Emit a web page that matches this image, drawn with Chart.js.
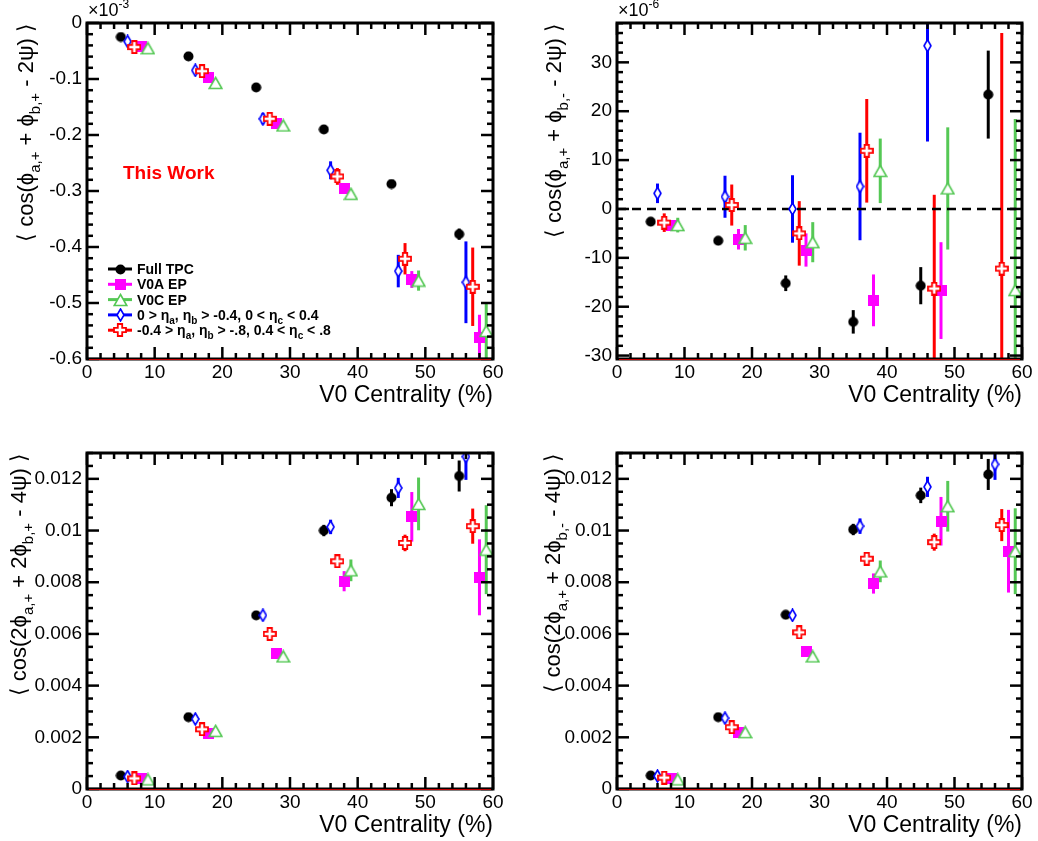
<!DOCTYPE html>
<html>
<head>
<meta charset="utf-8">
<script src="https://cdn.jsdelivr.net/npm/chart.js@4"></script>
<style>
body { margin: 0; background: #fff; }
#wrap { position: relative; width: 1038px; height: 841px; }
#wrap canvas { position: absolute; }
</style>
</head>
<body>
<div id="wrap">
<canvas id="c1" width="519" height="420" style="left:0;top:0"></canvas>
<canvas id="c2" width="519" height="420" style="left:519px;top:0"></canvas>
<canvas id="c3" width="519" height="421" style="left:0;top:420px"></canvas>
<canvas id="c4" width="519" height="421" style="left:519px;top:420px"></canvas>
</div>
<script>
// centrality of each method (shifted by 1% so they don't sit on top of each other)
const centTPC = [5, 15, 25, 35, 45, 55];
const centEtaIn = [6, 16, 26, 36, 46, 56];
const centEtaOut = [7, 17, 27, 37, 47, 57];
const centV0A = [8, 18, 28, 38, 48, 58];
const centV0C = [9, 19, 29, 39, 49, 59];

// top left: <cos(phi_a,+ + phi_b,+ - 2psi)>  (x10^-3)
const ppTPC = [-0.025, -0.0595, -0.115, -0.19, -0.2875, -0.377];
const ppTPCErr = [0.003, 0.003, 0.004, 0.004, 0.005, 0.01];
const ppV0A = [-0.042, -0.0965, -0.18, -0.295, -0.458, -0.561];
const ppV0AErr = [0.003, 0.004, 0.005, 0.006, 0.015, 0.04];
const ppV0C = [-0.045, -0.107, -0.183, -0.305, -0.46, -0.55];
const ppV0CErr = [0.003, 0.004, 0.005, 0.006, 0.018, 0.05];
const ppEtaIn = [-0.033, -0.0845, -0.171, -0.263, -0.443, -0.463];
const ppEtaInErr = [0.004, 0.006, 0.01, 0.016, 0.029, 0.073];
const ppEtaOut = [-0.043, -0.086, -0.171, -0.274, -0.421, -0.471];
const ppEtaOutErr = [0.004, 0.006, 0.008, 0.015, 0.028, 0.07];

// top right: <cos(phi_a,+ + phi_b,- - 2psi)>  (x10^-6)
const pmTPC = [-2.6, -6.5, -15.2, -23.1, -15.7, 23.4];
const pmTPCErr = [0.7, 0.8, 1.6, 2.4, 3.8, 9];
const pmV0A = [-3.3, -6.2, -8.4, -18.7, -16.7, null];
const pmV0AErr = [1.0, 2.1, 3.4, 5.3, 9.9, null];
const pmV0C = [-3.3, -5.9, -6.8, 7.8, 4.2, -16.6];
const pmV0CErr = [1.5, 2.6, 4.1, 6.6, 12.5, 35];
const pmEtaIn = [3.2, 2.5, 0, 4.6, 33.4, null];
const pmEtaInErr = [2, 4.3, 6.9, 11, 19.6, null];
const pmEtaOut = [-2.8, 0.8, -5, 11.9, -16.3, -12.2];
const pmEtaOutErr = [1.9, 4.2, 6.6, 10.6, 19.2, 48.2];

// bottom left: <cos(2phi_a,+ + 2phi_b,+ - 4psi)>
const qpTPC = [0.00052, 0.00278, 0.00672, 0.0100, 0.01127, 0.01211];
const qpTPCErr = [0.00005, 0.00006, 0.0001, 0.00022, 0.00033, 0.0006];
const qpV0A = [0.00039, 0.00216, 0.00526, 0.00804, 0.01053, 0.00819];
const qpV0AErr = [0.00005, 0.0001, 0.00015, 0.00039, 0.00096, 0.00147];
const qpV0C = [0.00037, 0.00225, 0.00513, 0.00846, 0.01103, 0.00926];
const qpV0CErr = [0.00005, 0.0001, 0.00015, 0.00042, 0.00102, 0.00172];
const qpEtaIn = [0.00048, 0.00271, 0.00672, 0.01014, 0.01165, 0.01286];
const qpEtaInErr = [0.00005, 0.0001, 0.0001, 0.00028, 0.00039, 0.0009];
const qpEtaOut = [0.00041, 0.00231, 0.006, 0.00881, 0.00952, 0.01017];
const qpEtaOutErr = [0.00005, 0.0001, 0.0001, 0.00026, 0.00032, 0.00068];

// bottom right: <cos(2phi_a,+ + 2phi_b,- - 4psi)>
const qmTPC = [0.00052, 0.00278, 0.00674, 0.01004, 0.01136, 0.01217];
const qmTPCErr = [0.00005, 0.00006, 0.0001, 0.00022, 0.0003, 0.0006];
const qmV0A = [0.00039, 0.0022, 0.00532, 0.00795, 0.01036, 0.0092];
const qmV0AErr = [0.00005, 0.0001, 0.00015, 0.00039, 0.00094, 0.0016];
const qmV0C = [0.00037, 0.0022, 0.00513, 0.00842, 0.01094, 0.0092];
const qmV0CErr = [0.00005, 0.0001, 0.00015, 0.00042, 0.00098, 0.00166];
const qmEtaIn = [0.0005, 0.00274, 0.00672, 0.01017, 0.01169, 0.01256];
const qmEtaInErr = [0.00005, 0.0001, 0.0001, 0.0003, 0.00039, 0.0006];
const qmEtaOut = [0.00044, 0.00239, 0.00606, 0.00891, 0.00955, 0.01021];
const qmEtaOutErr = [0.00005, 0.0001, 0.0001, 0.0002, 0.00033, 0.00062];

// axis ticks
const xTicks = [0, 10, 20, 30, 40, 50, 60];
const ppYTicks = [0, -0.1, -0.2, -0.3, -0.4, -0.5, -0.6];
const pmYTicks = [-30, -20, -10, 0, 10, 20, 30];
const qYTicks = [0, 0.002, 0.004, 0.006, 0.008, 0.01, 0.012];

const FONT = '"Liberation Sans", Arial, Helvetica, sans-serif';
const colTPC = '#000000', colV0A = '#ff00ff', colV0C = '#55c855', colIn = '#0000ff', colOut = '#ff0000';

// ROOT style markers drawn into little canvases, used as pointStyle
function marker(w, h, paint) {
    const c = document.createElement('canvas');
    c.width = w; c.height = h;
    paint(c.getContext('2d'));
    return c;
}
const mCircle = marker(11, 11, g => {
    g.fillStyle = colTPC; g.beginPath(); g.arc(5.5, 5.5, 5, 0, Math.PI * 2); g.fill();
});
const mSquare = marker(11, 11, g => { g.fillStyle = colV0A; g.fillRect(0, 0, 11, 11); });
const mTriangle = marker(15, 14, g => {
    g.beginPath(); g.moveTo(7.5, 1.5); g.lineTo(13.8, 12.5); g.lineTo(1.2, 12.5); g.closePath();
    g.fillStyle = '#fff'; g.fill(); g.strokeStyle = colV0C; g.lineWidth = 1.6; g.stroke();
});
const mDiamond = marker(9, 14, g => {
    g.beginPath(); g.moveTo(4.5, 1); g.lineTo(8, 7); g.lineTo(4.5, 13); g.lineTo(1, 7); g.closePath();
    g.fillStyle = '#fff'; g.fill(); g.strokeStyle = colIn; g.lineWidth = 1.6; g.stroke();
});
const mCross = marker(14, 14, g => {
    const a = 4.8, b = 9.2, lo = 1, hi = 13;
    g.beginPath();
    g.moveTo(a, lo); g.lineTo(b, lo); g.lineTo(b, a); g.lineTo(hi, a); g.lineTo(hi, b); g.lineTo(b, b);
    g.lineTo(b, hi); g.lineTo(a, hi); g.lineTo(a, b); g.lineTo(lo, b); g.lineTo(lo, a); g.lineTo(a, a);
    g.closePath();
    g.fillStyle = '#fff'; g.fill(); g.strokeStyle = colOut; g.lineWidth = 1.8; g.stroke();
});

function series(xs, ys, es, color, style) {
    return {
        data: xs.map((x, i) => ({ x: x, y: ys[i], e: es[i] })).filter(p => p.y !== null),
        pointStyle: style,
        pointRadius: 6,
        borderColor: color,
        backgroundColor: color,
        barColor: color,
        showLine: false
    };
}

// text with subscripts: segs = [[text, isSub], ...]
function richWidth(ctx, segs, main, sub) {
    let w = 0;
    segs.forEach(s => { ctx.font = s[1] ? sub : main; w += ctx.measureText(s[0]).width; });
    return w;
}
function drawRich(ctx, segs, x, y, main, sub, shift) {
    segs.forEach(s => {
        ctx.font = s[1] ? sub : main;
        ctx.fillText(s[0], x, y + (s[1] ? shift : 0));
        x += ctx.measureText(s[0]).width;
    });
}

const legendRows = [
    { color: colTPC, mk: mCircle, text: [['Full TPC']] },
    { color: colV0A, mk: mSquare, text: [['V0A EP']] },
    { color: colV0C, mk: mTriangle, text: [['V0C EP']] },
    { color: colIn, mk: mDiamond, text: [['0 > η'], ['a', 1], [', η'], ['b', 1], [' > -0.4, 0 < η'], ['c', 1], [' < 0.4']] },
    { color: colOut, mk: mCross, text: [['-0.4 > η'], ['a', 1], [', η'], ['b', 1], [' > -.8, 0.4 < η'], ['c', 1], [' < .8']] }
];

// frame, inward ticks, labels, error bars -- the ROOT look
const rootFrame = {
    id: 'rootFrame',
    beforeDatasetsDraw(chart) {
        const ctx = chart.ctx, a = chart.chartArea, ys = chart.scales.y;
        ctx.save();
        ctx.beginPath(); ctx.rect(a.left, a.top, a.right - a.left, a.bottom - a.top); ctx.clip();
        ctx.lineWidth = 3;
        chart.data.datasets.forEach((ds, i) => {
            if (!ds.barColor) return;
            const meta = chart.getDatasetMeta(i);
            ctx.strokeStyle = ds.barColor;
            ds.data.forEach((p, j) => {
                const x = meta.data[j].x;
                ctx.beginPath();
                ctx.moveTo(x, ys.getPixelForValue(p.y + p.e));
                ctx.lineTo(x, ys.getPixelForValue(p.y - p.e));
                ctx.stroke();
            });
        });
        ctx.restore();
    },
    afterDraw(chart, args, o) {
        const ctx = chart.ctx, a = chart.chartArea, xs = chart.scales.x, ys = chart.scales.y;
        ctx.save();
        // ticks
        ctx.strokeStyle = '#000';
        ctx.lineWidth = 2.5;
        const tick = (x1, y1, x2, y2) => { ctx.beginPath(); ctx.moveTo(x1, y1); ctx.lineTo(x2, y2); ctx.stroke(); };
        for (let v = 0; v <= 60.001; v += 2) {
            const len = Math.abs(v % 10) < 0.01 ? 12 : 6;
            const px = xs.getPixelForValue(v);
            tick(px, a.bottom, px, a.bottom - len);
            tick(px, a.top, px, a.top + len);
        }
        const ymin = ys.min, ymax = ys.max;
        for (let k = Math.ceil(ymin / o.yMinor - 1e-6); k * o.yMinor <= ymax + 1e-9; k++) {
            const v = k * o.yMinor;
            const major = o.yTicks.some(t => Math.abs(t - v) < o.yMinor / 10);
            const len = major ? 12 : 6;
            const py = ys.getPixelForValue(v);
            tick(a.left, py, a.left + len, py);
            tick(a.right, py, a.right - len, py);
        }
        // frame
        ctx.lineWidth = 3;
        ctx.strokeRect(a.left, a.top, a.right - a.left, a.bottom - a.top);
        ctx.strokeStyle = '#c00000';
        ctx.lineWidth = 1;
        tick(a.left + 2, a.bottom + 0.5, a.right - 2, a.bottom + 0.5);

        // tick labels
        ctx.fillStyle = '#000';
        ctx.font = '19px ' + FONT;
        ctx.textAlign = 'center';
        ctx.textBaseline = 'alphabetic';
        xTicks.forEach(v => ctx.fillText(String(v), xs.getPixelForValue(v), a.bottom + 19));
        ctx.textAlign = 'right';
        ctx.textBaseline = 'middle';
        o.yTicks.forEach(v => ctx.fillText(String(v), a.left - 5, ys.getPixelForValue(v)));

        // axis titles
        ctx.textBaseline = 'alphabetic';
        ctx.font = '23px ' + FONT;
        ctx.fillText('V0 Centrality (%)', a.right, a.bottom + 43);

        ctx.textAlign = 'left';
        const main = '22px ' + FONT, sub = '15px ' + FONT;
        const w = richWidth(ctx, o.yTitle, main, sub);
        ctx.save();
        ctx.translate(o.yTitleX, a.top);
        ctx.rotate(-Math.PI / 2);
        drawRich(ctx, o.yTitle, -w, 0, main, sub, 7);
        ctx.restore();

        // exponent
        if (o.expo) {
            ctx.font = '18px ' + FONT;
            ctx.fillText('×10', a.left + 1, 16);
            const ew = ctx.measureText('×10').width;
            ctx.font = '12px ' + FONT;
            ctx.fillText(o.expo, a.left + 1 + ew, 8);
        }

        if (o.thisWork) {
            ctx.fillStyle = '#ff0000';
            ctx.font = 'bold 19px ' + FONT;
            ctx.fillText('This Work', 123, 179);
        }

        if (o.legend) {
            legendRows.forEach((r, i) => {
                const y = 269 + i * 15.3;
                ctx.strokeStyle = r.color;
                ctx.lineWidth = 3;
                tick(108, y, 132, y);
                ctx.drawImage(r.mk, Math.round(120 - r.mk.width / 2), Math.round(y - r.mk.height / 2));
                ctx.fillStyle = '#000';
                drawRich(ctx, r.text, 137, y + 5, 'bold 14px ' + FONT, 'bold 10px ' + FONT, 4);
            });
        }
        ctx.restore();
    }
};

function makePanel(id, pad, yMin, yMax, sets, opts) {
    const datasets = [
        series(centEtaOut, sets[4], sets[9], colOut, mCross),
        series(centEtaIn, sets[3], sets[8], colIn, mDiamond),
        series(centV0C, sets[2], sets[7], colV0C, mTriangle),
        series(centV0A, sets[1], sets[6], colV0A, mSquare),
        series(centTPC, sets[0], sets[5], colTPC, mCircle)
    ];
    if (opts.zeroLine) {
        datasets.push({
            data: [{ x: 0, y: 0 }, { x: 60, y: 0 }],
            showLine: true, pointRadius: 0, borderColor: '#000', borderWidth: 2.5, borderDash: [9, 6]
        });
    }
    return new Chart(document.getElementById(id), {
        type: 'scatter',
        data: { datasets: datasets },
        options: {
            responsive: false,
            animation: false,
            devicePixelRatio: 1,
            layout: { padding: pad },
            scales: {
                x: { type: 'linear', min: 0, max: 60, display: false },
                y: { type: 'linear', min: yMin, max: yMax, display: false }
            },
            plugins: {
                legend: { display: false },
                tooltip: { enabled: false },
                rootFrame: opts
            }
        },
        plugins: [rootFrame]
    });
}

makePanel('c1', { left: 87, top: 23, right: 26, bottom: 61 }, -0.6, 0,
    [ppTPC, ppV0A, ppV0C, ppEtaIn, ppEtaOut, ppTPCErr, ppV0AErr, ppV0CErr, ppEtaInErr, ppEtaOutErr], {
    yTicks: ppYTicks, yMinor: 0.02, yTitleX: 33, expo: '-3', legend: true, thisWork: true,
    yTitle: [['⟨ cos(ϕ'], ['a,+', 1], [' + ϕ'], ['b,+', 1], [' - 2ψ) ⟩']]
});
makePanel('c2', { left: 98, top: 23, right: 16, bottom: 61 }, -30.7, 38.05,
    [pmTPC, pmV0A, pmV0C, pmEtaIn, pmEtaOut, pmTPCErr, pmV0AErr, pmV0CErr, pmEtaInErr, pmEtaOutErr], {
    yTicks: pmYTicks, yMinor: 2, yTitleX: 42, expo: '-6', zeroLine: true,
    yTitle: [['⟨ cos(ϕ'], ['a,+', 1], [' + ϕ'], ['b,-', 1], [' - 2ψ) ⟩']]
});
makePanel('c3', { left: 87, top: 33, right: 26, bottom: 52 }, 0, 0.013,
    [qpTPC, qpV0A, qpV0C, qpEtaIn, qpEtaOut, qpTPCErr, qpV0AErr, qpV0CErr, qpEtaInErr, qpEtaOutErr], {
    yTicks: qYTicks, yMinor: 0.0005, yTitleX: 26,
    yTitle: [['⟨ cos(2ϕ'], ['a,+', 1], [' + 2ϕ'], ['b,+', 1], [' - 4ψ) ⟩']]
});
makePanel('c4', { left: 98, top: 33, right: 16, bottom: 52 }, 0, 0.013,
    [qmTPC, qmV0A, qmV0C, qmEtaIn, qmEtaOut, qmTPCErr, qmV0AErr, qmV0CErr, qmEtaInErr, qmEtaOutErr], {
    yTicks: qYTicks, yMinor: 0.0005, yTitleX: 41,
    yTitle: [['⟨ cos(2ϕ'], ['a,+', 1], [' + 2ϕ'], ['b,-', 1], [' - 4ψ) ⟩']]
});
</script>
</body>
</html>
